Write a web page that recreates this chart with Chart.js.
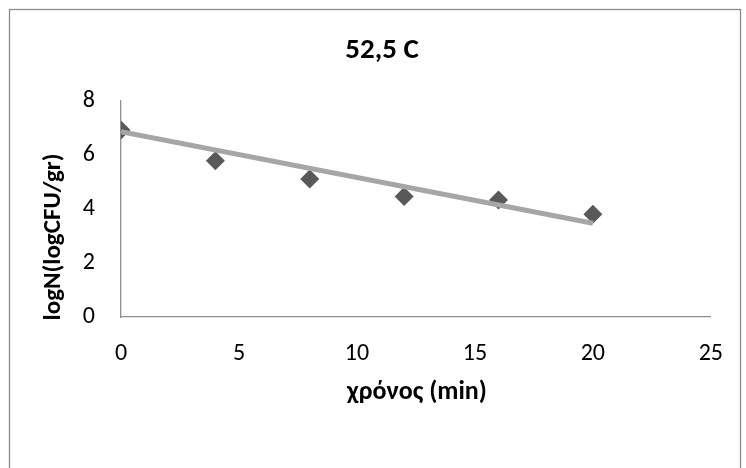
<!DOCTYPE html>
<html>
<head>
<meta charset="utf-8">
<script src="https://cdn.jsdelivr.net/npm/chart.js@4/dist/chart.umd.min.js"></script>
<style>
  html, body { margin: 0; padding: 0; background: #fff; }
  canvas { display: block; }
</style>
</head>
<body>
<canvas id="chart" width="746" height="468"></canvas>
<script>
// measured survival at 52,5 C
const times = [0, 4, 8, 12, 16, 20];
const logN = [6.93, 5.79, 5.11, 4.46, 4.33, 3.81];

// linear trendline end points
const trendTimes = [0, 20];
const trendLogN = [6.86, 3.47];

const chartTitle = '52,5 C';
const xTitle = 'χρόνος (min)';
const yTitle = 'logN(logCFU/gr)';

const FONT = "Carlito, 'Open Sans', sans-serif";

const toPoints = (xs, ys) => xs.map((x, i) => ({x: x, y: ys[i]}));

// frame and titles drawn around the plot
const decorations = {
    id: 'decorations',
    beforeDraw(chart) {
        const c = chart.ctx;
        c.save();
        c.strokeStyle = '#8c8c8c';
        c.lineWidth = 1.3;
        c.strokeRect(9.5, 9.5, 731, 470);
        c.restore();
    },
    afterDraw(chart) {
        const c = chart.ctx;
        c.save();
        c.fillStyle = '#000';
        c.textAlign = 'center';
        c.textBaseline = 'middle';
        c.font = 'bold 29px ' + FONT;
        c.fillText(chartTitle, 382, 51);
        c.font = 'bold 26px ' + FONT;
        c.fillText(xTitle, 417, 392);
        c.font = 'bold 25px ' + FONT;
        c.translate(54, 237);
        c.rotate(-Math.PI / 2);
        c.fillText(yTitle, 0, 0);
        c.restore();
    }
};

new Chart(document.getElementById('chart'), {
    type: 'scatter',
    data: {
        datasets: [
            {
                label: 'trend',
                data: toPoints(trendTimes, trendLogN),
                showLine: true,
                borderColor: '#a6a6a6',
                borderWidth: 5,
                pointRadius: 0,
                borderCapStyle: 'butt'
            },
            {
                label: 'logN',
                data: toPoints(times, logN),
                pointStyle: 'rectRot',
                pointRadius: 9.5,
                pointBackgroundColor: '#595959',
                pointBorderColor: '#595959',
                pointBorderWidth: 0
            }
        ]
    },
    options: {
        responsive: false,
        animation: false,
        layout: {
            padding: {left: 0, top: 101, right: 32, bottom: 91}
        },
        plugins: {
            legend: {display: false},
            tooltip: {enabled: false}
        },
        scales: {
            x: {
                type: 'linear',
                min: 0,
                max: 25,
                ticks: {
                    stepSize: 5,
                    padding: 23,
                    color: '#000',
                    font: {family: FONT, size: 24}
                },
                grid: {display: false, drawTicks: false},
                border: {color: '#909090', width: 1.3},
                afterFit(scale) { scale.height = 60; }
            },
            y: {
                min: 0,
                max: 8,
                ticks: {
                    stepSize: 2,
                    padding: 26,
                    color: '#000',
                    font: {family: FONT, size: 24}
                },
                grid: {display: false, drawTicks: false},
                border: {color: '#909090', width: 1.3},
                afterFit(scale) { scale.width = 121; }
            }
        }
    },
    plugins: [decorations]
});
</script>
</body>
</html>
